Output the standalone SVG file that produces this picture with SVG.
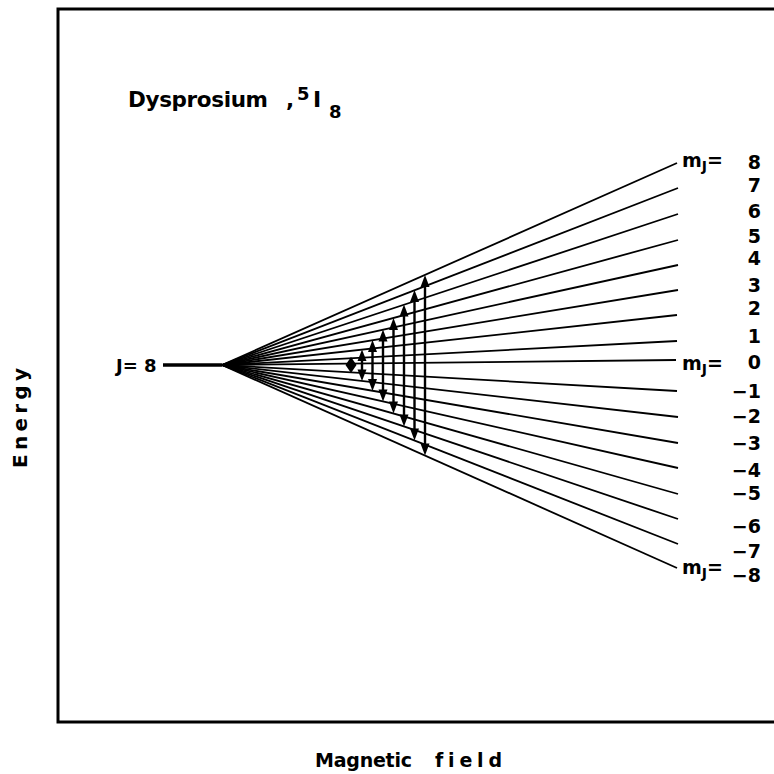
<svg xmlns="http://www.w3.org/2000/svg" width="774" height="774" viewBox="0 0 774 774">
<style>
.t{font-family:"DejaVu Sans","Liberation Sans",sans-serif;font-weight:bold;fill:#000;font-variant-ligatures:none}
.n{font-size:19px;text-anchor:end}
.fan line{stroke:#000;stroke-width:1.8}
.arr line{stroke:#000;stroke-width:2.4}
.arr polygon{fill:#000}
</style>
<rect width="774" height="774" fill="#fff"/>
<g id="frame"><path d="M784 9 H58 V722 H784" fill="none" stroke="#000" stroke-width="3"/></g>
<g id="title"><text class="t" x="128" y="107" font-size="21.5" textLength="140" lengthAdjust="spacing">Dysprosium</text><text class="t" x="286" y="107" font-size="21.5">,</text><text class="t" x="297" y="100" font-size="18">5</text><text class="t" x="313" y="107" font-size="22" font-family="DejaVu Sans Mono">I</text><text class="t" x="329" y="118" font-size="18">8</text></g>
<g id="level"><line x1="163" y1="365" x2="222" y2="365" stroke="#000" stroke-width="3.5"/><text class="t" x="116" y="372" font-size="18" font-family="Liberation Sans" xml:space="preserve">J= 8</text></g>
<g id="connectors">
<g class="fan">
<line x1="222" y1="365" x2="677" y2="163"/>
<line x1="222" y1="365" x2="678" y2="188"/>
<line x1="222" y1="365" x2="678" y2="214"/>
<line x1="222" y1="365" x2="678" y2="240"/>
<line x1="222" y1="365" x2="678" y2="265"/>
<line x1="222" y1="365" x2="678" y2="290"/>
<line x1="222" y1="365" x2="677" y2="315"/>
<line x1="222" y1="365" x2="677" y2="341"/>
<line x1="222" y1="365" x2="676" y2="360"/>
<line x1="222" y1="365" x2="677" y2="391"/>
<line x1="222" y1="365" x2="678" y2="417"/>
<line x1="222" y1="365" x2="678" y2="443"/>
<line x1="222" y1="365" x2="678" y2="468"/>
<line x1="222" y1="365" x2="678" y2="494"/>
<line x1="222" y1="365" x2="678" y2="519"/>
<line x1="222" y1="365" x2="678" y2="544"/>
<line x1="222" y1="365" x2="677" y2="568"/>
</g>
<g class="arr">
<polygon points="351,357 356.5,365 351,373 345.5,365"/>
<line x1="362" y1="357" x2="362" y2="374"/><polygon points="362,349.5 357.5,361 366.5,361"/><polygon points="362,381 357.5,369.5 366.5,369.5"/>
<line x1="372.5" y1="347" x2="372.5" y2="384"/><polygon points="372.5,340 368,352 377,352"/><polygon points="372.5,391 368,379 377,379"/>
<line x1="383" y1="336" x2="383" y2="395"/><polygon points="383,329.5 378.5,341.5 387.5,341.5"/><polygon points="383,401.5 378.5,389.5 387.5,389.5"/>
<line x1="393.5" y1="324" x2="393.5" y2="408"/><polygon points="393.5,318 389,330 398,330"/><polygon points="393.5,413.5 389,401.5 398,401.5"/>
<line x1="404" y1="311" x2="404" y2="421"/><polygon points="404,304.5 399.5,316.5 408.5,316.5"/><polygon points="404,426.5 399.5,414.5 408.5,414.5"/>
<line x1="414.5" y1="296" x2="414.5" y2="435"/><polygon points="414.5,290 410,302 419,302"/><polygon points="414.5,440.5 410,428.5 419,428.5"/>
<line x1="425" y1="281" x2="425" y2="450"/><polygon points="425,275 420.5,287 429.5,287"/><polygon points="425,455.5 420.5,443.5 429.5,443.5"/>
</g>
</g>
<g id="labels">
<text class="t" x="682" y="167" font-size="19">m<tspan font-size="14" dy="4">J</tspan><tspan dy="-4">=</tspan></text>
<text class="t" x="682" y="370" font-size="19">m<tspan font-size="14" dy="4">J</tspan><tspan dy="-4">=</tspan></text>
<text class="t" x="682" y="574" font-size="19">m<tspan font-size="14" dy="4">J</tspan><tspan dy="-4">=</tspan></text>
<text class="t n" x="761" y="169">8</text>
<text class="t n" x="761" y="192">7</text>
<text class="t n" x="761" y="218">6</text>
<text class="t n" x="761" y="243">5</text>
<text class="t n" x="761" y="265">4</text>
<text class="t n" x="761" y="292">3</text>
<text class="t n" x="761" y="315">2</text>
<text class="t n" x="761" y="343">1</text>
<text class="t n" x="761" y="369">0</text>
<text class="t n" x="761" y="398">−1</text>
<text class="t n" x="761" y="423">−2</text>
<text class="t n" x="761" y="450">−3</text>
<text class="t n" x="761" y="477">−4</text>
<text class="t n" x="761" y="500">−5</text>
<text class="t n" x="761" y="533">−6</text>
<text class="t n" x="761" y="558">−7</text>
<text class="t n" x="761" y="582">−8</text>
</g>
<g id="axes">
<text class="t" x="0" y="0" font-size="20" transform="translate(27,468) rotate(-90)" textLength="100" lengthAdjust="spacing">Energy</text>
<text class="t" x="315" y="767" font-size="19" textLength="97" lengthAdjust="spacing">Magnetic</text>
<text class="t" x="435" y="767" font-size="19" textLength="67" lengthAdjust="spacing">field</text>
</g>
</svg>
